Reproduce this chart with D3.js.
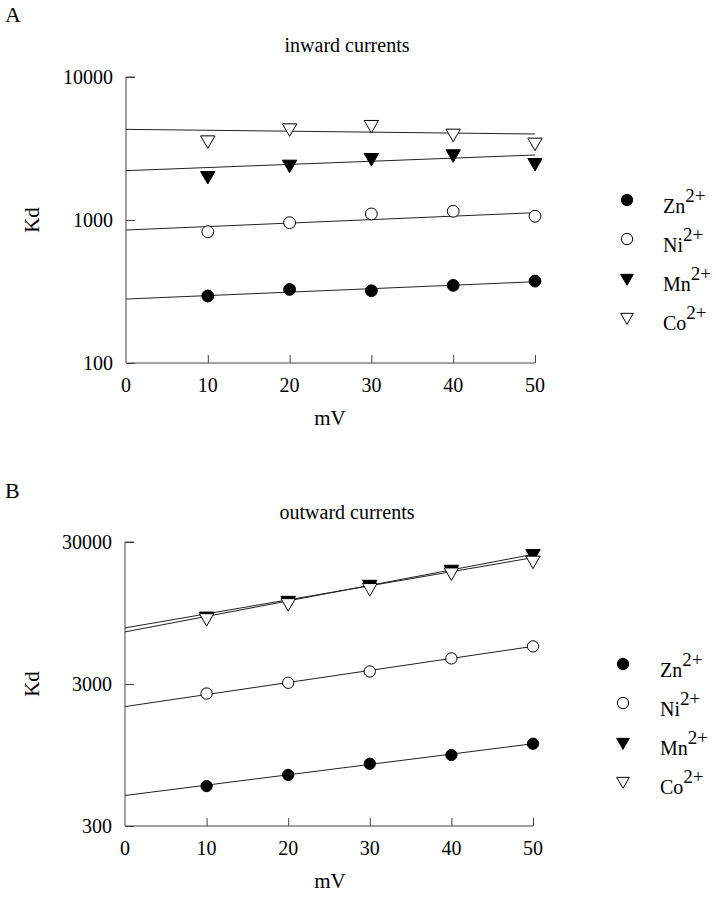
<!DOCTYPE html>
<html><head><meta charset="utf-8">
<script src="https://cdn.jsdelivr.net/npm/d3@7"></script>
<style>
html,body{margin:0;padding:0;background:#fff;}
svg{display:block;font-family:"Liberation Serif","Times New Roman",serif;}
</style></head>
<body>
<svg id="chart" width="716" height="899"></svg>
<script>
// ---- data ----
const mV = [10, 20, 30, 40, 50];
const xTicks = [0, 10, 20, 30, 40, 50];
const fitX = [0, 50];
const ions = ["Zn", "Ni", "Mn", "Co"];

// inward currents (Kd)
const inZn = [294, 327, 320, 349, 374];
const inNi = [828, 957, 1102, 1151, 1062];
const inMn = [2042, 2451, 2729, 2897, 2518];
const inCo = [3624, 4400, 4645, 4037, 3494];
const inFitZn = [280, 370];
const inFitNi = [851, 1125];
const inFitMn = [2213, 2849];
const inFitCo = [4305, 3993];
const inYTicks = [100, 1000, 10000];

// outward currents (Kd)
const outZn = [573, 687, 823, 948, 1139];
const outNi = [2571, 3059, 3676, 4542, 5522];
const outMn = [8997, 11620, 15072, 19230, 24840];
const outCo = [8769, 11190, 14292, 18411, 22290];
const outFitZn = [492, 1139];
const outFitNi = [2080, 5522];
const outFitMn = [6982, 24544];
const outFitCo = [7449, 23270];
const outYTicks = [300, 3000, 30000];

const svg = d3.select("#chart");
const axisColor = "#444";

function symbolFor(ion){
  if (ion === "Zn" || ion === "Ni") return d3.symbolCircle;
  return d3.symbolTriangle;
}
function drawMarker(g, ion, x, y, size){
  const filled = (ion === "Zn" || ion === "Mn");
  const tri = (ion === "Mn" || ion === "Co");
  g.append("path")
    .attr("d", d3.symbol().type(symbolFor(ion)).size(size)())
    .attr("transform", `translate(${x},${y})` + (tri ? " rotate(180)" : ""))
    .attr("fill", filled ? "#000" : "#fff")
    .attr("stroke", "#000")
    .attr("stroke-width", 1);
}

function panel(cfg){
  const g = svg.append("g");
  const x = d3.scaleLinear().domain([0, 50]).range([cfg.x0, cfg.x1]);
  const y = d3.scaleLog().domain(cfg.yDomain).range([cfg.yBottom, cfg.yTop]);

  // panel letter & title
  g.append("text").attr("x", 5).attr("y", cfg.letterY)
    .attr("font-size", 22).text(cfg.letter);
  g.append("text").attr("x", 347).attr("y", cfg.titleY)
    .attr("text-anchor", "middle").attr("font-size", 20).text(cfg.title);

  // axes
  const yAxis = d3.axisRight(y).tickValues(cfg.yTicks).tickSize(9).tickFormat("");
  const ya = g.append("g").attr("transform", `translate(${cfg.x0},0)`).call(yAxis);
  ya.select(".domain").attr("d", `M9,${cfg.yTop}H0V${cfg.yBottom}`);
  ya.selectAll("path,line").attr("stroke", axisColor);

  const xAxis = d3.axisTop(x).tickValues(xTicks.slice(1)).tickSize(8).tickFormat("");
  const xa = g.append("g").attr("transform", `translate(0,${cfg.yBottom})`).call(xAxis);
  xa.select(".domain").attr("d", `M${cfg.x0},0H${cfg.x1}`);
  xa.selectAll("path,line").attr("stroke", axisColor);

  // tick labels
  g.selectAll(".ylab").data(cfg.yTicks).join("text")
    .attr("x", cfg.x0 - 13).attr("y", d => y(d)).attr("dy", "0.35em")
    .attr("text-anchor", "end").attr("font-size", 20).text(d => d);
  g.selectAll(".xlab").data(xTicks).join("text")
    .attr("x", d => x(d)).attr("y", cfg.yBottom + 29)
    .attr("text-anchor", "middle").attr("font-size", 20).text(d => d);

  // axis titles
  g.append("text").attr("transform", `translate(39,${(cfg.yTop + cfg.yBottom) / 2}) rotate(-90)`)
    .attr("text-anchor", "middle").attr("font-size", 21).text("Kd");
  g.append("text").attr("x", 330).attr("y", cfg.yBottom + 62)
    .attr("text-anchor", "middle").attr("font-size", 21).text("mV");

  // fit lines
  const line = d3.line().x(d => x(d[0])).y(d => y(d[1]));
  ions.forEach(ion => {
    const f = cfg.fits[ion];
    g.append("path").attr("d", line(fitX.map((v, i) => [v, f[i]])))
      .attr("fill", "none").attr("stroke", "#222").attr("stroke-width", 1);
  });

  // data points
  cfg.order.forEach(ion => {
    cfg.data[ion].forEach((v, i) => {
      drawMarker(g, ion, x(mV[i]), y(v), (ion === "Zn" || ion === "Ni") ? cfg.circSize : cfg.triSize);
    });
  });

  // legend
  ions.forEach((ion, i) => {
    const ly = cfg.legY + i * cfg.legStep;
    drawMarker(g, ion, cfg.legMX, ly, (ion === "Zn" || ion === "Ni") ? 100 : 70);
    const t = g.append("text").attr("x", cfg.legTX).attr("y", ly + 13).attr("font-size", 20);
    t.append("tspan").text(ion);
    t.append("tspan").attr("dy", -11).attr("font-size", 19).text("2+");
  });
}

panel({
  letter: "A", letterY: 22, title: "inward currents", titleY: 52,
  x0: 126, x1: 535, yTop: 77, yBottom: 363, yDomain: [100, 10000], yTicks: inYTicks,
  fits: {Zn: inFitZn, Ni: inFitNi, Mn: inFitMn, Co: inFitCo},
  data: {Zn: inZn, Ni: inNi, Mn: inMn, Co: inCo},
  order: ["Co", "Mn", "Ni", "Zn"],
  circSize: 110, triSize: 90,
  legMX: 627, legTX: 663, legY: 200, legStep: 39
});

panel({
  letter: "B", letterY: 498, title: "outward currents", titleY: 519,
  x0: 125, x1: 533, yTop: 542, yBottom: 826, yDomain: [300, 30000], yTicks: outYTicks,
  fits: {Zn: outFitZn, Ni: outFitNi, Mn: outFitMn, Co: outFitCo},
  data: {Zn: outZn, Ni: outNi, Mn: outMn, Co: outCo},
  order: ["Mn", "Co", "Ni", "Zn"],
  circSize: 100, triSize: 90,
  legMX: 623, legTX: 660, legY: 664, legStep: 39
});
</script>
</body></html>
